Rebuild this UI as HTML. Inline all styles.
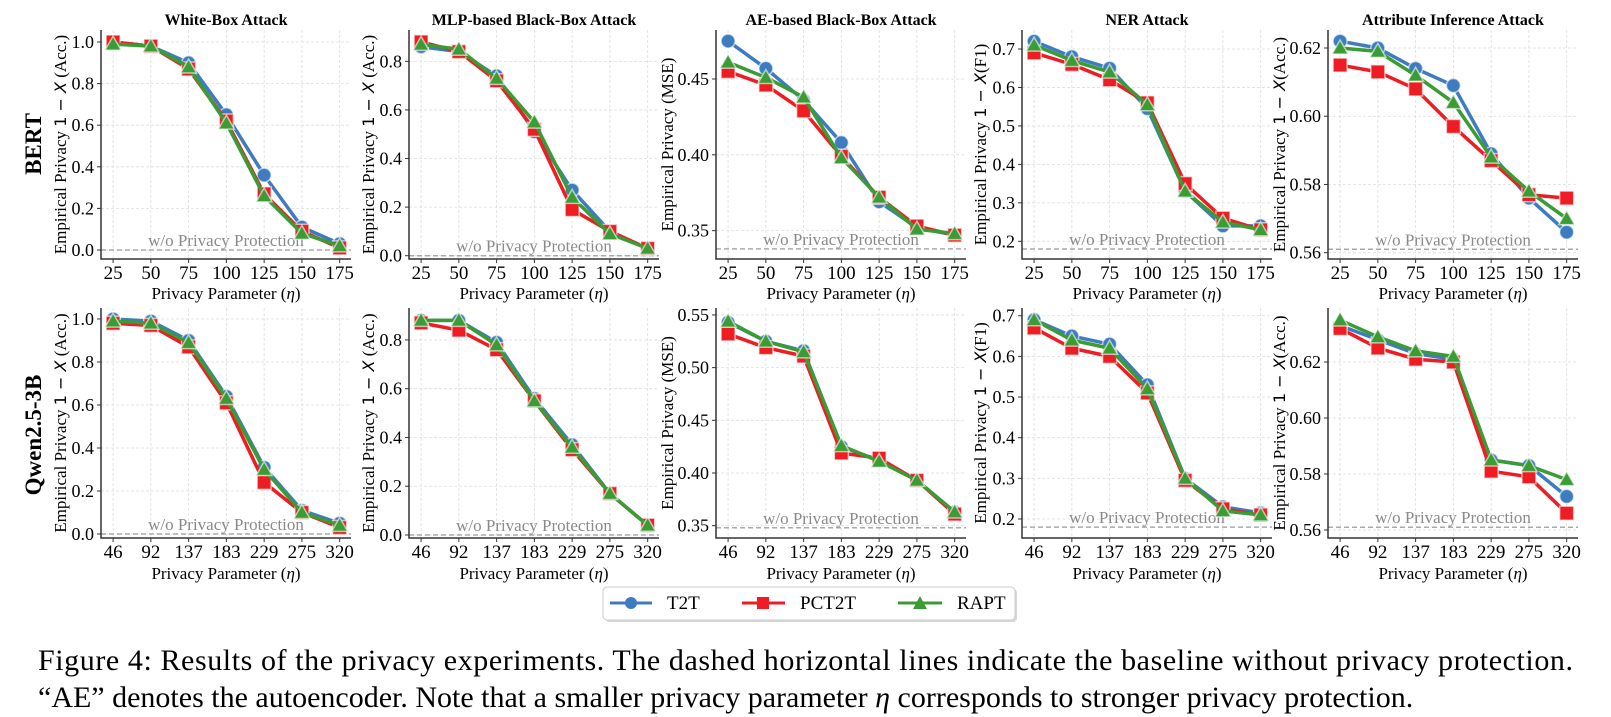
<!DOCTYPE html>
<html><head><meta charset="utf-8">
<style>
html,body{margin:0;padding:0;background:#fff;}
svg{display:block;font-family:"Liberation Serif",serif;}
</style></head>
<body>
<svg id="fig" width="1611" height="717" viewBox="0 0 1611 717" xmlns="http://www.w3.org/2000/svg">
<text x="0" y="0" transform="translate(41,144) rotate(-90)" text-anchor="middle" font-weight="bold" font-size="23">BERT</text>
<text x="0" y="0" transform="translate(41,435) rotate(-90)" text-anchor="middle" font-weight="bold" font-size="23">Qwen2.5-3B</text>
<g id="legend">
<rect x="605" y="589" width="412" height="33" rx="4" fill="#d8d8d8"/>
<rect x="603" y="587" width="412" height="33" rx="4" fill="#fff" stroke="#ccc" stroke-width="1"/>
<g><line x1="610" y1="603" x2="652" y2="603" stroke="#3e7cc0" stroke-width="3"/><circle cx="631" cy="603" r="6" fill="#3e7cc0"/><text x="667" y="609" font-size="19">T2T</text></g>
<g><line x1="742" y1="603" x2="785" y2="603" stroke="#ee1d23" stroke-width="3"/><rect x="757" y="597" width="12" height="12" fill="#ee1d23"/><text x="800" y="609" font-size="19">PCT2T</text></g>
<g><line x1="898" y1="603" x2="942" y2="603" stroke="#3b9b34" stroke-width="3"/><polygon points="920,596 927,609 913,609" fill="#3b9b34"/><text x="957" y="609" font-size="19">RAPT</text></g>
</g>
<text x="38" y="670" font-size="30" textLength="1535" lengthAdjust="spacing">Figure 4: Results of the privacy experiments. The dashed horizontal lines indicate the baseline without privacy protection.</text>
<text x="38" y="707" font-size="30">“AE” denotes the autoencoder. Note that a smaller privacy parameter <tspan font-style="italic">η</tspan> corresponds to stronger privacy protection.</text>
</svg>
<script>
const xLabelsBert = ["25","50","75","100","125","150","175"];
const xLabelsQwen = ["46","92","137","183","229","275","320"];
const titles = ["White-Box Attack","MLP-based Black-Box Attack","AE-based Black-Box Attack","NER Attack","Attribute Inference Attack"];
// Row 1 (BERT)
const wbBertT2T = [1.0,0.98,0.90,0.65,0.36,0.11,0.03];
const wbBertPCT = [1.0,0.98,0.87,0.62,0.27,0.09,0.01];
const wbBertRAPT = [0.99,0.98,0.88,0.61,0.26,0.08,0.02];
const mlpBertT2T = [0.86,0.84,0.74,0.51,0.27,0.10,0.03];
const mlpBertPCT = [0.88,0.84,0.72,0.52,0.19,0.10,0.03];
const mlpBertRAPT = [0.87,0.85,0.73,0.55,0.24,0.09,0.03];
const aeBertT2T = [0.475,0.457,0.436,0.408,0.369,0.352,0.347];
const aeBertPCT = [0.455,0.446,0.429,0.399,0.372,0.353,0.347];
const aeBertRAPT = [0.461,0.451,0.438,0.398,0.372,0.351,0.348];
const nerBertT2T = [0.72,0.68,0.65,0.545,0.33,0.24,0.24];
const nerBertPCT = [0.69,0.66,0.62,0.56,0.35,0.26,0.23];
const nerBertRAPT = [0.71,0.67,0.64,0.555,0.33,0.25,0.23];
const attrBertT2T = [0.622,0.620,0.614,0.609,0.589,0.576,0.566];
const attrBertPCT = [0.615,0.613,0.608,0.597,0.587,0.577,0.576];
const attrBertRAPT = [0.620,0.619,0.612,0.604,0.588,0.578,0.570];
// Row 2 (Qwen)
const wbQwenT2T = [1.0,0.99,0.90,0.64,0.31,0.11,0.05];
const wbQwenPCT = [0.98,0.97,0.87,0.61,0.24,0.10,0.03];
const wbQwenRAPT = [0.99,0.98,0.89,0.63,0.30,0.10,0.04];
const mlpQwenT2T = [0.88,0.88,0.79,0.56,0.37,0.17,0.04];
const mlpQwenPCT = [0.87,0.84,0.76,0.55,0.35,0.17,0.04];
const mlpQwenRAPT = [0.88,0.88,0.78,0.55,0.36,0.17,0.04];
const aeQwenT2T = [0.543,0.525,0.516,0.425,0.412,0.393,0.363];
const aeQwenPCT = [0.532,0.519,0.511,0.419,0.414,0.393,0.361];
const aeQwenRAPT = [0.544,0.525,0.515,0.426,0.411,0.393,0.363];
const nerQwenT2T = [0.69,0.65,0.63,0.53,0.30,0.23,0.215];
const nerQwenPCT = [0.67,0.62,0.60,0.51,0.295,0.225,0.21];
const nerQwenRAPT = [0.69,0.64,0.62,0.52,0.30,0.22,0.21];
const attrQwenT2T = [0.633,0.628,0.623,0.621,0.585,0.583,0.572];
const attrQwenPCT = [0.632,0.625,0.621,0.620,0.581,0.579,0.566];
const attrQwenRAPT = [0.635,0.629,0.624,0.622,0.585,0.583,0.578];
// baselines (w/o privacy protection)
const baselinesBert = [0.0,0.0,0.338,0.18,0.561];
const baselinesQwen = [0.0,0.0,0.348,0.18,0.561];
// y ticks
const ticksAcc = [0.0,0.2,0.4,0.6,0.8,1.0];
const ticksMlp = [0.0,0.2,0.4,0.6,0.8];
const ticksAeBert = [0.35,0.40,0.45];
const ticksAeQwen = [0.35,0.40,0.45,0.50,0.55];
const ticksNer = [0.2,0.3,0.4,0.5,0.6,0.7];
const ticksAttr = [0.56,0.58,0.60,0.62];
// y domains
const domWbBert=[-0.0433,1.0577], domMlpBert=[-0.0136,0.929], domAeBert=[0.3313,0.4823], domNerBert=[0.154,0.7494], domAttrBert=[0.55815,0.62528];
const domWbQwen=[-0.0186,1.051], domMlpQwen=[-0.0123,0.931], domAeQwen=[0.3383,0.5566], domNerQwen=[0.1533,0.719], domAttrQwen=[0.55714,0.6393];

const NS="http://www.w3.org/2000/svg";
const svg=document.getElementById('fig');
function mk(tag,attrs,parent){const e=document.createElementNS(NS,tag);for(const k in attrs)e.setAttribute(k,attrs[k]);(parent||svg).appendChild(e);return e;}
const lefts=[101,409,716,1022,1328];
const W=250;
const rows=[{top:30,bottom:259,tickY:279,labY:299,xl:xLabelsBert},{top:308,bottom:538,tickY:558,labY:579,xl:xLabelsQwen}];
const colors={t2t:"#3e7cc0",pct:"#ee1d23",rapt:"#3b9b34"};
const ylabels=[["Empirical Privacy ","1 − ","X"," (Acc.)"],["Empirical Privacy ","1 − ","X"," (Acc.)"],["Empirical Privacy (MSE)"],["Empirical Privacy ","1 − ","X","(F1)"],["Empirical Privacy ","1 − ","X","(Acc.)"]];
const ylabOff=[41,41,49,42,49];
const fmt=[v=>v.toFixed(1),v=>v.toFixed(1),v=>v.toFixed(2),v=>v.toFixed(1),v=>v.toFixed(2)];
const panels=[
 [[wbBertT2T,wbBertPCT,wbBertRAPT,domWbBert,ticksAcc],[mlpBertT2T,mlpBertPCT,mlpBertRAPT,domMlpBert,ticksMlp],[aeBertT2T,aeBertPCT,aeBertRAPT,domAeBert,ticksAeBert],[nerBertT2T,nerBertPCT,nerBertRAPT,domNerBert,ticksNer],[attrBertT2T,attrBertPCT,attrBertRAPT,domAttrBert,ticksAttr]],
 [[wbQwenT2T,wbQwenPCT,wbQwenRAPT,domWbQwen,ticksAcc],[mlpQwenT2T,mlpQwenPCT,mlpQwenRAPT,domMlpQwen,ticksMlp],[aeQwenT2T,aeQwenPCT,aeQwenRAPT,domAeQwen,ticksAeQwen],[nerQwenT2T,nerQwenPCT,nerQwenRAPT,domNerQwen,ticksNer],[attrQwenT2T,attrQwenPCT,attrQwenRAPT,domAttrQwen,ticksAttr]]
];
const baselines=[baselinesBert,baselinesQwen];
rows.forEach((row,r)=>{
 panels[r].forEach((p,c)=>{
  const L=lefts[c], R=L+W, T=row.top, B=row.bottom;
  const g=mk('g',{});
  
  
  const dom=p[3];
  const xs=i=>L+(i+0.32)/6.62*W;
  const ys=v=>B-(v-dom[0])/(dom[1]-dom[0])*(B-T);
  // grid
  row.xl.forEach((lab,i)=>{const ln=mk('line',{x1:xs(i),x2:xs(i),y1:T,y2:B,stroke:"#ddd","stroke-width":0.8,"stroke-dasharray":"3,2"},g);});
  p[4].forEach(v=>{const ln=mk('line',{x1:L,x2:R,y1:ys(v),y2:ys(v),stroke:"#ddd","stroke-width":0.8,"stroke-dasharray":"3,2"},g);});
  // baseline
  const bv=baselines[r][c];
  const bl=mk('line',{x1:L,x2:R,y1:ys(bv),y2:ys(bv),stroke:"#aaa","stroke-width":1.5,"stroke-dasharray":"5,3"},g);
  
  
  const bt=mk('text',{x:(L+R)/2,y:ys(bv)-4,"text-anchor":"middle","font-size":17,fill:"#8a8a8a"},g);
  bt.textContent="w/o Privacy Protection";
  
  
  // series
  [[p[0],'t2t'],[p[1],'pct'],[p[2],'rapt']].forEach(([vals,key])=>{
   const col=colors[key];
   const pl=mk('polyline',{points:vals.map((v,i)=>xs(i)+','+ys(v)).join(' '),fill:"none",stroke:col,"stroke-width":3.5,"stroke-linejoin":"round"},g);
   
   
   vals.forEach((v,i)=>{
    const x=xs(i),y=ys(v);let m;
    if(key==='t2t')m=mk('circle',{cx:x,cy:y,r:7,fill:col,stroke:"#fff","stroke-opacity":0.6,"stroke-width":1.5},g);
    else if(key==='pct')m=mk('rect',{x:x-7,y:y-7,width:14,height:14,fill:col,stroke:"#fff","stroke-opacity":0.6,"stroke-width":1.5},g);
    else m=mk('polygon',{points:`${x},${y-8} ${x+8},${y+6} ${x-8},${y+6}`,fill:col,stroke:"#fff","stroke-opacity":0.6,"stroke-width":1.5},g);
    
    
   });
  });
  // spines
  const sp=mk('path',{d:`M${L},${T} L${L},${B} L${R},${B}`,fill:"none",stroke:"#333","stroke-width":1.5},g);
  
  
  // y ticks
  p[4].forEach(v=>{
   mk('line',{x1:L-4,x2:L,y1:ys(v),y2:ys(v),stroke:"#333","stroke-width":1},g);
   const t=mk('text',{x:L-7,y:ys(v)+6,"text-anchor":"end","font-size":18},g);
   t.textContent=fmt[c](v);
   
   
  });
  // x ticks
  row.xl.forEach((lab,i)=>{
   mk('line',{x1:xs(i),x2:xs(i),y1:B,y2:B+4,stroke:"#333","stroke-width":1},g);
   const t=mk('text',{x:xs(i),y:row.tickY,"text-anchor":"middle","font-size":19},g);
   t.textContent=lab;
   
   
  });
  const xl=mk('text',{x:(L+R)/2,y:row.labY,"text-anchor":"middle","font-size":17},g);
  xl.innerHTML='Privacy Parameter (<tspan font-style="italic">η</tspan>)';
  
  
  // y label
  const yl=mk('text',{x:0,y:0,transform:`translate(${L-ylabOff[c]+6},${(T+B)/2}) rotate(-90)`,"text-anchor":"middle","font-size":17},g);
  const parts=ylabels[c];
  if(parts.length===1) yl.textContent=parts[0];
  else yl.innerHTML=`${parts[0]}<tspan font-family="DejaVu Sans, sans-serif" font-size="16">${parts[1]}</tspan><tspan font-family="DejaVu Sans, sans-serif" font-style="italic" font-size="16">${parts[2]}</tspan>${parts[3]}`;
  
  
  if(r===0){
   const tt=mk('text',{x:(L+R)/2,y:25,"text-anchor":"middle","font-size":16,"font-weight":"bold"},g);
   tt.textContent=titles[c];
   
   
  }
 });
});
</script>
</body></html>
